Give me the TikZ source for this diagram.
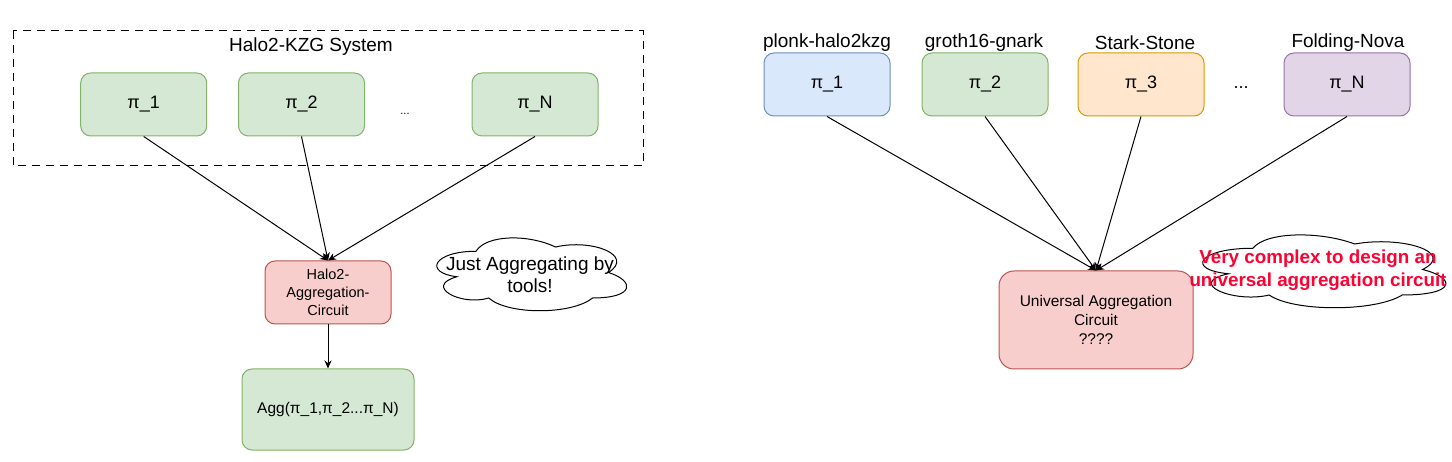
\documentclass[tikz,border=0pt]{standalone}
\usepackage{fontspec}
\setmainfont{Liberation Sans}
\usetikzlibrary{arrows.meta}

\definecolor{greenfill}{HTML}{D5E8D4}
\definecolor{greenline}{HTML}{82B366}
\definecolor{redfill}{HTML}{F8CECC}
\definecolor{redline}{HTML}{B85450}
\definecolor{bluefill}{HTML}{DAE8FC}
\definecolor{blueline}{HTML}{6C8EBF}
\definecolor{orangefill}{HTML}{FFE6CC}
\definecolor{orangeline}{HTML}{D79B00}
\definecolor{purplefill}{HTML}{E1D5E7}
\definecolor{purpleline}{HTML}{9673A6}
\definecolor{alertred}{HTML}{FF0033}

% outline of a cloud in a unit box
\newcommand{\cloudoutline}{(0.25,0.25) .. controls (0.05,0.25) and (0,0.5) .. (0.16,0.55)
  .. controls (0,0.66) and (0.18,0.9) .. (0.31,0.8)
  .. controls (0.4,1) and (0.7,1) .. (0.8,0.8)
  .. controls (1,0.8) and (1,0.6) .. (0.875,0.5)
  .. controls (1,0.3) and (0.8,0.1) .. (0.625,0.2)
  .. controls (0.5,0.05) and (0.3,0.05) .. (0.25,0.25) -- cycle}

\begin{document}
\begin{tikzpicture}[x=1pt, y=-1pt,
  proofbox/.style={draw, line width=1pt, rounded corners=10pt, minimum width=126pt,
    minimum height=63pt, inner sep=0pt, align=center, font=\fontsize{18}{21}\selectfont},
  bigtext/.style={font=\fontsize{19}{22}\selectfont, inner sep=0pt, align=center},
  flow/.style={line width=1pt, -{Stealth[length=8pt, width=7pt]}}]
  \useasboundingbox (0,0) rectangle (1452,462);

  % Halo2-KZG system (dashed frame)
  \draw[line width=1pt, dash pattern=on 8pt off 6pt] (13,31) rectangle (643,166);
  \node[bigtext] (sys) at (311,47) {Halo2-KZG System};

  % Proofs of the same system
  \node[proofbox, fill=greenfill, draw=greenline] (a1) at (143.7,104.5) {π\_1};
  \node[proofbox, fill=greenfill, draw=greenline] (a2) at (301.5,104.5) {π\_2};
  \node[font=\fontsize{11}{13}\selectfont, inner sep=0pt] (adots) at (405,114) {...};
  \node[proofbox, fill=greenfill, draw=greenline] (aN) at (535,104.5) {π\_N};

  % Aggregation circuit and result
  \node[proofbox, fill=redfill, draw=redline, font=\fontsize{14.5}{18}\selectfont] (hac) at (328,292.5) {Halo2-\\Aggregation-\\Circuit};
  \node[proofbox, fill=greenfill, draw=greenline, minimum width=172pt, minimum height=81pt,
    font=\fontsize{15.5}{19}\selectfont] (agg) at (328,409.5) {Agg(π\_1,π\_2...π\_N)};

  \draw[flow] (a1.south) -- (hac.north);
  \draw[flow] (a2.south) -- (hac.north);
  \draw[flow] (aN.south) -- (hac.north);
  \draw[flow] (hac.south) -- (agg.north);

  % Cloud note (left)
  \begin{scope}[shift={(423,230)}, xscale=212, yscale=85]
    \draw[line width=1pt, fill=white] \cloudoutline;
  \end{scope}
  \node[bigtext] (toolstxt) at (530,275) {Just Aggregating by\\tools!};

  % Proofs of different systems
  \node[proofbox, fill=bluefill, draw=blueline] (b1) at (827,84.5) {π\_1};
  \node[proofbox, fill=greenfill, draw=greenline] (b2) at (985,84.5) {π\_2};
  \node[proofbox, fill=orangefill, draw=orangeline] (b3) at (1141,84.5) {π\_3};
  \node[font=\fontsize{18}{21}\selectfont, inner sep=0pt] (bdots) at (1241,88) {...};
  \node[proofbox, fill=purplefill, draw=purpleline] (bN) at (1347,84.5) {π\_N};

  \node[bigtext] (l1) at (827,43) {plonk-halo2kzg};
  \node[bigtext] (l2) at (984,43) {groth16-gnark};
  \node[bigtext] (l3) at (1145,43) {Stark-Stone};
  \node[bigtext] (lN) at (1348,43) {Folding-Nova};

  % Universal circuit
  \node[proofbox, fill=redfill, draw=redline, rounded corners=15pt, minimum width=194pt,
    minimum height=98pt, font=\fontsize{15.5}{19}\selectfont] (uac) at (1096,320) {Universal Aggregation\\Circuit\\????};

  \draw[flow] (b1.south) -- (uac.north);
  \draw[flow] (b2.south) -- (uac.north);
  \draw[flow] (b3.south) -- (uac.north);
  \draw[flow] (bN.south) -- (uac.north);

  % Cloud note (right)
  \begin{scope}[shift={(1185,227)}, xscale=271.5, yscale=85]
    \draw[line width=1pt, fill=white] \cloudoutline;
  \end{scope}
  \node[bigtext, text=alertred, font=\fontsize{18.8}{23}\selectfont\bfseries] (hardtxt) at (1318,270) {Very complex to design an\\universal aggregation circuit};
\end{tikzpicture}
\end{document}
